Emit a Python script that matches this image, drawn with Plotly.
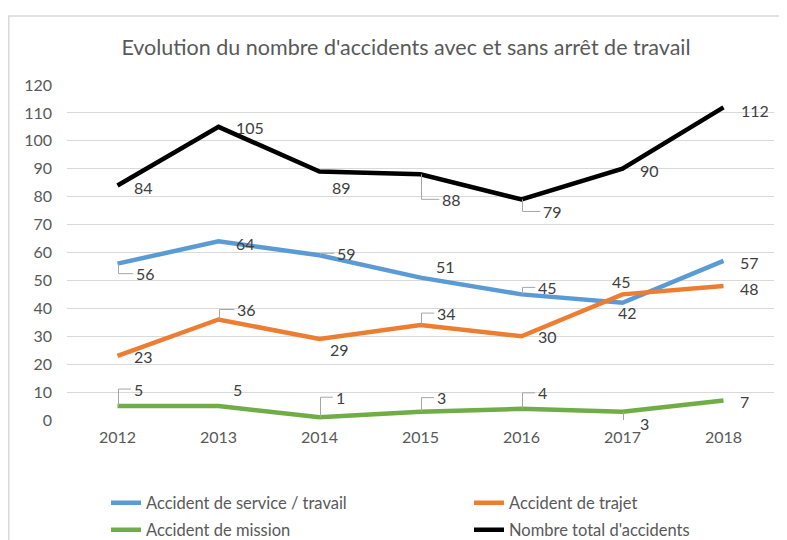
import plotly.graph_objects as go

# ---- data ----
years = ["2012", "2013", "2014", "2015", "2016", "2017", "2018"]
service = [56, 64, 59, 51, 45, 42, 57]
trajet = [23, 36, 29, 34, 30, 45, 48]
mission = [5, 5, 1, 3, 4, 3, 7]
total = [84, 105, 89, 88, 79, 90, 112]
y_ticks = [0, 10, 20, 30, 40, 50, 60, 70, 80, 90, 100, 110, 120]

names = ["Accident de service / travail", "Accident de trajet",
         "Accident de mission", "Nombre total d'accidents"]
series = [service, trajet, mission, total]
colors = ["#5B9BD5", "#ED7D31", "#70AD47", "#000000"]
legends = ["legend", "legend2", "legend3", "legend4"]

# label offsets (pixels, dx right, dy down) and leader-line flags
label_dx = [
    [28, 27, 27, 25, 26, 5, 26],
    [26, 28, 20, 26, 26, -1, 26],
    [21, 19, 21, 21, 21, 22, 21],
    [26, 31, 22, 31, 31, 27, 31],
]
label_dy = [
    [10, 2, -2, -11, -7, 10, 2],
    [1, -10, 10, -12, 0, -13, 2],
    [-17, -17, -20, -14, -16, 12, 1],
    [2, 1, 16, 25, 12, 2, 3],
]
leader = [
    [1, 0, 1, 0, 1, 0, 0],
    [0, 1, 0, 1, 0, 0, 0],
    [1, 0, 1, 1, 1, 1, 0],
    [0, 0, 0, 1, 1, 0, 0],
]

# legend placement (container pixels): column x, row y
legend_px = [(98, 495), (461, 495), (98, 522), (461, 522)]

FONT = "Lato, 'Open Sans', sans-serif"
W, H = 787, 540
DIGIT_W = 9.2
x_idx = list(range(len(years)))

fig = go.Figure()
for name, vals, col, lg in zip(names, series, colors, legends):
    fig.add_trace(go.Scatter(
        x=x_idx, y=vals, mode="lines", name=name,
        line=dict(color=col, width=4.5), legend=lg,
        hoverinfo="skip",
    ))

annotations = []
shapes = []
for s, vals in enumerate(series):
    for i, v in enumerate(vals):
        dx, dy = label_dx[s][i], label_dy[s][i]
        annotations.append(dict(
            x=x_idx[i], y=v, xref="x", yref="y", text=str(v),
            showarrow=False, xshift=dx, yshift=-dy,
            font=dict(family=FONT, size=16, color="#404040"),
        ))
        if leader[s][i]:
            half_w = len(str(v)) * DIGIT_W / 2
            hx = dx - half_w - 3
            hy = -dy
            shapes.append(dict(
                type="path", xref="x", yref="y",
                xsizemode="pixel", ysizemode="pixel",
                xanchor=x_idx[i], yanchor=v,
                path=f"M 1 0 L 1 {hy} L {hx} {hy}",
                line=dict(color="#A6A6A6", width=1),
                fillcolor="rgba(0,0,0,0)", layer="above",
            ))

legend_layout = {}
for lg, (lx, ly) in zip(legends, legend_px):
    legend_layout[lg] = dict(
        orientation="v", xref="container", x=lx / W, xanchor="left",
        yref="container", y=1 - ly / H, yanchor="middle",
        font=dict(family=FONT, size=16.5, color="#595959"),
        bgcolor="rgba(0,0,0,0)",
    )

L, R, T, B = 59, 21, 77, 128
pw, ph = W - L - R, H - T - B

shapes.append(dict(
    type="rect", xref="paper", yref="paper",
    x0=(0.75 - L) / pw, x1=1.2, y0=-0.6, y1=(ph + T - 8) / ph,
    line=dict(color="#D9D9D9", width=1.5), fillcolor="rgba(0,0,0,0)",
    layer="below",
))

fig.update_layout(
    width=W, height=H,
    margin=dict(l=L, r=R, t=T, b=B, autoexpand=False),
    paper_bgcolor="white", plot_bgcolor="white",
    font=dict(family=FONT, color="#595959"),
    title=dict(
        text="Evolution du nombre d'accidents avec et sans arrêt de travail",
        x=398 / W, xref="container", xanchor="center",
        y=1 - 39 / H, yref="container", yanchor="middle",
        font=dict(family=FONT, size=21.5, color="#595959"),
    ),
    xaxis=dict(
        range=[-0.5, 6.5], tickmode="array", tickvals=x_idx, ticktext=years,
        showgrid=False, zeroline=False, showline=False, ticks="",
        tickfont=dict(family=FONT, size=16, color="#595959"),
        ticklabelstandoff=6, fixedrange=True,
    ),
    yaxis=dict(
        range=[0, 120], tickmode="array", tickvals=y_ticks,
        showgrid=True, gridcolor="#D9D9D9", gridwidth=1,
        zeroline=False, showline=False, ticks="",
        tickfont=dict(family=FONT, size=16, color="#595959"),
        ticklabelstandoff=14, fixedrange=True,
    ),
    annotations=annotations,
    shapes=shapes,
    showlegend=True,
    **legend_layout,
)

fig.write_html("out.html")
